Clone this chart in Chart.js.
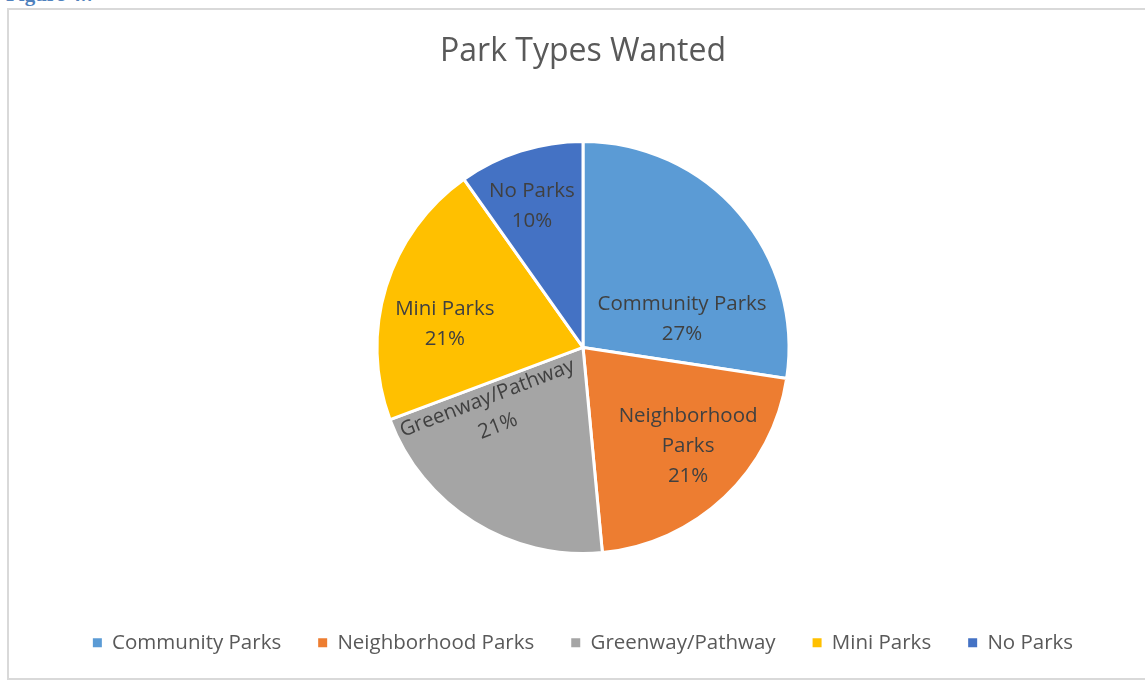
<!DOCTYPE html>
<html>
<head>
<meta charset="utf-8">
<script src="https://cdn.jsdelivr.net/npm/chart.js@4.4.1/dist/chart.umd.min.js"></script>
<style>
  html, body { margin: 0; padding: 0; background: #fff; overflow: hidden; width: 1145px; height: 681px; }
  #fig { position: absolute; left: 6px; top: -18px; font: bold 21px "Liberation Serif", serif; color: #4f81bd; white-space: nowrap; }
  #box { position: absolute; left: 7px; top: 8px; width: 1152px; height: 672px; border: 2px solid #d9d9d9; box-sizing: border-box; background: #fff; }
  #wrap { position: absolute; left: 0; top: 0; width: 1148px; height: 668px; }
</style>
</head>
<body>
<div id="fig">Figure 4.7</div>
<div id="box"><div id="wrap"><canvas id="c"></canvas></div></div>
<script>
const categories = ["Community Parks", "Neighborhood Parks", "Greenway/Pathway", "Mini Parks", "No Parks"];
const values = [27.4, 21.1, 20.8, 20.9, 9.8];
const colors = ["#5B9BD5", "#ED7D31", "#A5A5A5", "#FFC000", "#4472C4"];
const sliceLabelLines = [["Community Parks"], ["Neighborhood", "Parks"], ["Greenway/Pathway"], ["Mini Parks"], ["No Parks"]];

const FONT = "'Open Sans', 'Noto Sans', sans-serif";

const sliceLabels = {
  id: 'sliceLabels',
  afterDatasetsDraw(chart, args, opts) {
    const ctx = chart.ctx;
    const meta = chart.getDatasetMeta(0);
    const data = chart.data.datasets[0].data;
    const total = data.reduce((a, b) => a + b, 0);
    meta.data.forEach((arc, i) => {
      const p = arc.getProps(['x', 'y', 'startAngle', 'endAngle', 'outerRadius'], true);
      const a = (p.startAngle + p.endAngle) / 2 + opts.angleOffset[i] * Math.PI / 180;
      const r = p.outerRadius * opts.radius[i];
      const cx = p.x + Math.cos(a) * r;
      const cy = p.y + Math.sin(a) * r;
      const lines = sliceLabelLines[i].concat([Math.round(data[i] / total * 100) + '%']);
      ctx.save();
      ctx.translate(cx, cy);
      ctx.rotate(opts.rotation[i] * Math.PI / 180);
      ctx.font = opts.fontSize + 'px ' + FONT;
      ctx.fillStyle = '#404040';
      ctx.textAlign = 'center';
      ctx.textBaseline = 'middle';
      const lh = opts.lineHeight;
      const start = -(lines.length - 1) * lh / 2;
      lines.forEach((t, k) => ctx.fillText(t, 0, start + k * lh));
      ctx.restore();
    });
  }
};

new Chart(document.getElementById('c'), {
  type: 'pie',
  data: {
    labels: categories,
    datasets: [{
      data: values,
      backgroundColor: colors,
      borderColor: '#ffffff',
      borderWidth: 3,
      radius: 206
    }]
  },
  options: {
    responsive: true,
    maintainAspectRatio: false,
    animation: false,
    layout: { padding: { top: 0, bottom: 15, left: 0, right: 0 } },
    plugins: {
      title: {
        display: true,
        text: 'Park Types Wanted',
        color: '#595959',
        font: { family: FONT, size: 32, weight: 'normal' },
        padding: { top: 23, bottom: 28 }
      },
      legend: {
        position: 'bottom',
        labels: {
          color: '#595959',
          font: { family: FONT, size: 20.5 },
          boxWidth: 9,
          boxHeight: 9,
          padding: 37,
          generateLabels(chart) {
            const items = Chart.overrides.pie.plugins.legend.labels.generateLabels(chart);
            items.forEach(it => { it.lineWidth = 0; it.strokeStyle = it.fillStyle; });
            return items;
          }
        }
      },
      tooltip: { enabled: false },
      sliceLabels: {
        fontSize: 20.5,
        lineHeight: 30,
        radius: [0.50, 0.70, 0.54, 0.68, 0.73],
        angleOffset: [24.8, -3.4, 22.3, -7.6, -2.2],
        rotation: [0, 0, -21, 0, 0]
      }
    }
  },
  plugins: [sliceLabels]
});
</script>
</body>
</html>
